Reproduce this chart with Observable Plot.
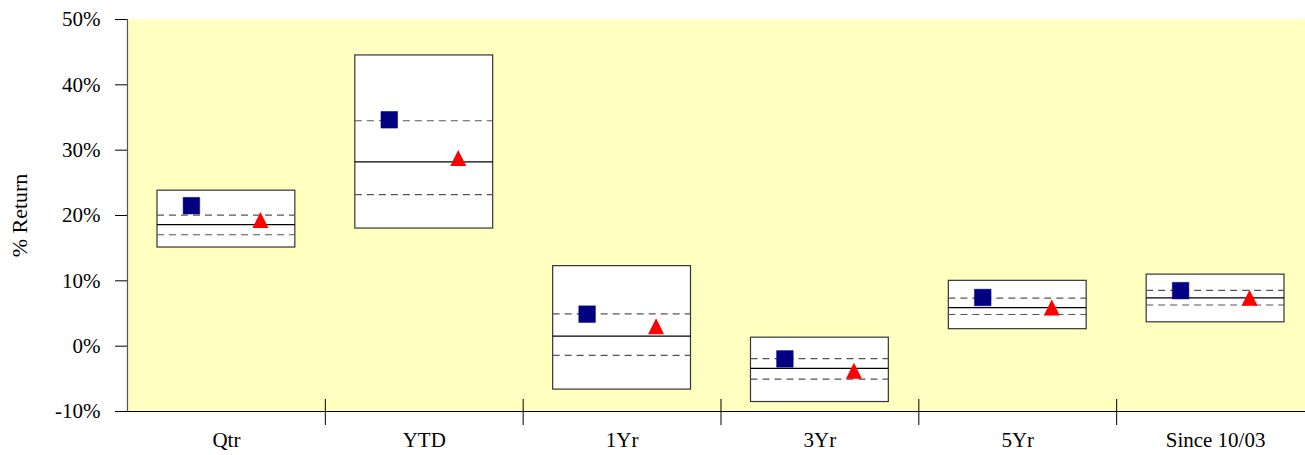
<!DOCTYPE html>
<html>
<head>
<meta charset="utf-8">
<script src="https://cdn.jsdelivr.net/npm/d3@7"></script>
<script src="https://cdn.jsdelivr.net/npm/@observablehq/plot@0.6"></script>
<style>
  html, body { margin: 0; padding: 0; background: #fff; overflow: hidden; }
  #chart { width: 1314px; }
  #chart svg { display: block; max-width: none !important; }
  #chart svg text { font-family: "Liberation Serif", "Times New Roman", serif; }
</style>
</head>
<body>
<div id="chart"></div>
<script>
// ---- Data ----
const categories = ["Qtr", "YTD", "1Yr", "3Yr", "5Yr", "Since 10/03"];
const boxTop = [23.8, 44.5, 12.25, 1.3, 10.0, 10.95];
const boxBottom = [15.1, 18.0, -6.65, -8.55, 2.6, 3.65];
const upperQuartile = [20.05, 34.5, 4.95, -1.9, 7.35, 8.55];
const medianValues = [18.6, 28.2, 1.55, -3.4, 5.9, 7.4];
const lowerQuartile = [17.05, 23.2, -1.4, -5.05, 4.85, 6.3];
const squareSeries = [21.5, 34.65, 4.9, -1.95, 7.45, 8.5];
const triangleSeries = [19.3, 28.8, 3.05, -3.75, 5.9, 7.4];
const yTicks = [-10, 0, 10, 20, 30, 40, 50];

const rows = categories.map((c, i) => ({
  cat: c,
  top: boxTop[i], bottom: boxBottom[i],
  q3: upperQuartile[i], med: medianValues[i], q1: lowerQuartile[i],
  sq: squareSeries[i], tri: triangleSeries[i]
}));

// ---- Layout ----
const W = 1314, H = 455, mL = 127, mR = 0, mT = 19, mB = 44;
const bw = (W - mL - mR) / categories.length;
const ppu = (H - mT - mB) / (yTicks[yTicks.length - 1] - yTicks[0]);
const inset = 30;

const squareSymbol = {
  draw(ctx) { const h = 8.3; ctx.moveTo(-h, -h); ctx.lineTo(h, -h); ctx.lineTo(h, h); ctx.lineTo(-h, h); ctx.closePath(); }
};
const triangleSymbol = {
  draw(ctx) { const h = 8; ctx.moveTo(0, -h); ctx.lineTo(h, h); ctx.lineTo(-h, h); ctx.closePath(); }
};

const chart = Plot.plot({
  width: W, height: H,
  marginLeft: mL, marginRight: mR, marginTop: mT, marginBottom: mB,
  style: { fontFamily: "Liberation Serif, Times New Roman, serif", fontSize: "21px", color: "#000", background: "#fff", maxWidth: "none" },
  x: { type: "band", domain: categories, padding: 0, round: false, tickSize: 0, tickPadding: 21, label: null },
  y: { domain: [yTicks[0], yTicks[yTicks.length - 1]], ticks: yTicks, tickFormat: d => d + "%", tickSize: 12, tickPadding: 15, label: null },
  marks: [
    Plot.frame({ fill: "#FFFFC0", stroke: null }),
    Plot.barY(rows, { x: "cat", y1: "bottom", y2: "top", fill: "white", stroke: "#333", strokeWidth: 1.2, insetLeft: inset, insetRight: inset }),
    Plot.tickY(rows, { x: "cat", y: "q3", stroke: "#555", strokeDasharray: "7,5", strokeWidth: 1.2, insetLeft: inset, insetRight: inset }),
    Plot.tickY(rows, { x: "cat", y: "q1", stroke: "#555", strokeDasharray: "7,5", strokeWidth: 1.2, insetLeft: inset, insetRight: inset }),
    Plot.tickY(rows, { x: "cat", y: "med", stroke: "#000", strokeWidth: 1.2, insetLeft: inset, insetRight: inset }),
    Plot.dot(rows, { x: "cat", y: "sq", symbol: squareSymbol, fill: "#000080", stroke: "#000080", strokeWidth: 0.5, dx: -35 }),
    Plot.dot(rows, { x: "cat", y: "tri", symbol: triangleSymbol, fill: "#FF0000", stroke: "none", dx: 34 }),
    // axis lines
    Plot.ruleY([yTicks[0]], { stroke: "#000", strokeWidth: 1.2 }),
    Plot.ruleX([categories[0]], { dx: -bw / 2, y1: yTicks[0], y2: yTicks[yTicks.length - 1], stroke: "#555", strokeWidth: 1.2 }),
    // category separators
    Plot.ruleX(categories.slice(0, categories.length - 1), { dx: bw / 2, y1: yTicks[0] + 12 / ppu, y2: yTicks[0] - 14 / ppu, stroke: "#000", strokeWidth: 1 }),
    Plot.text(["% Return"], { text: d => d, frameAnchor: "left", textAnchor: "middle", rotate: -90, dx: -108, fontSize: 22 })
  ]
});
document.getElementById("chart").appendChild(chart);
</script>
</body>
</html>
